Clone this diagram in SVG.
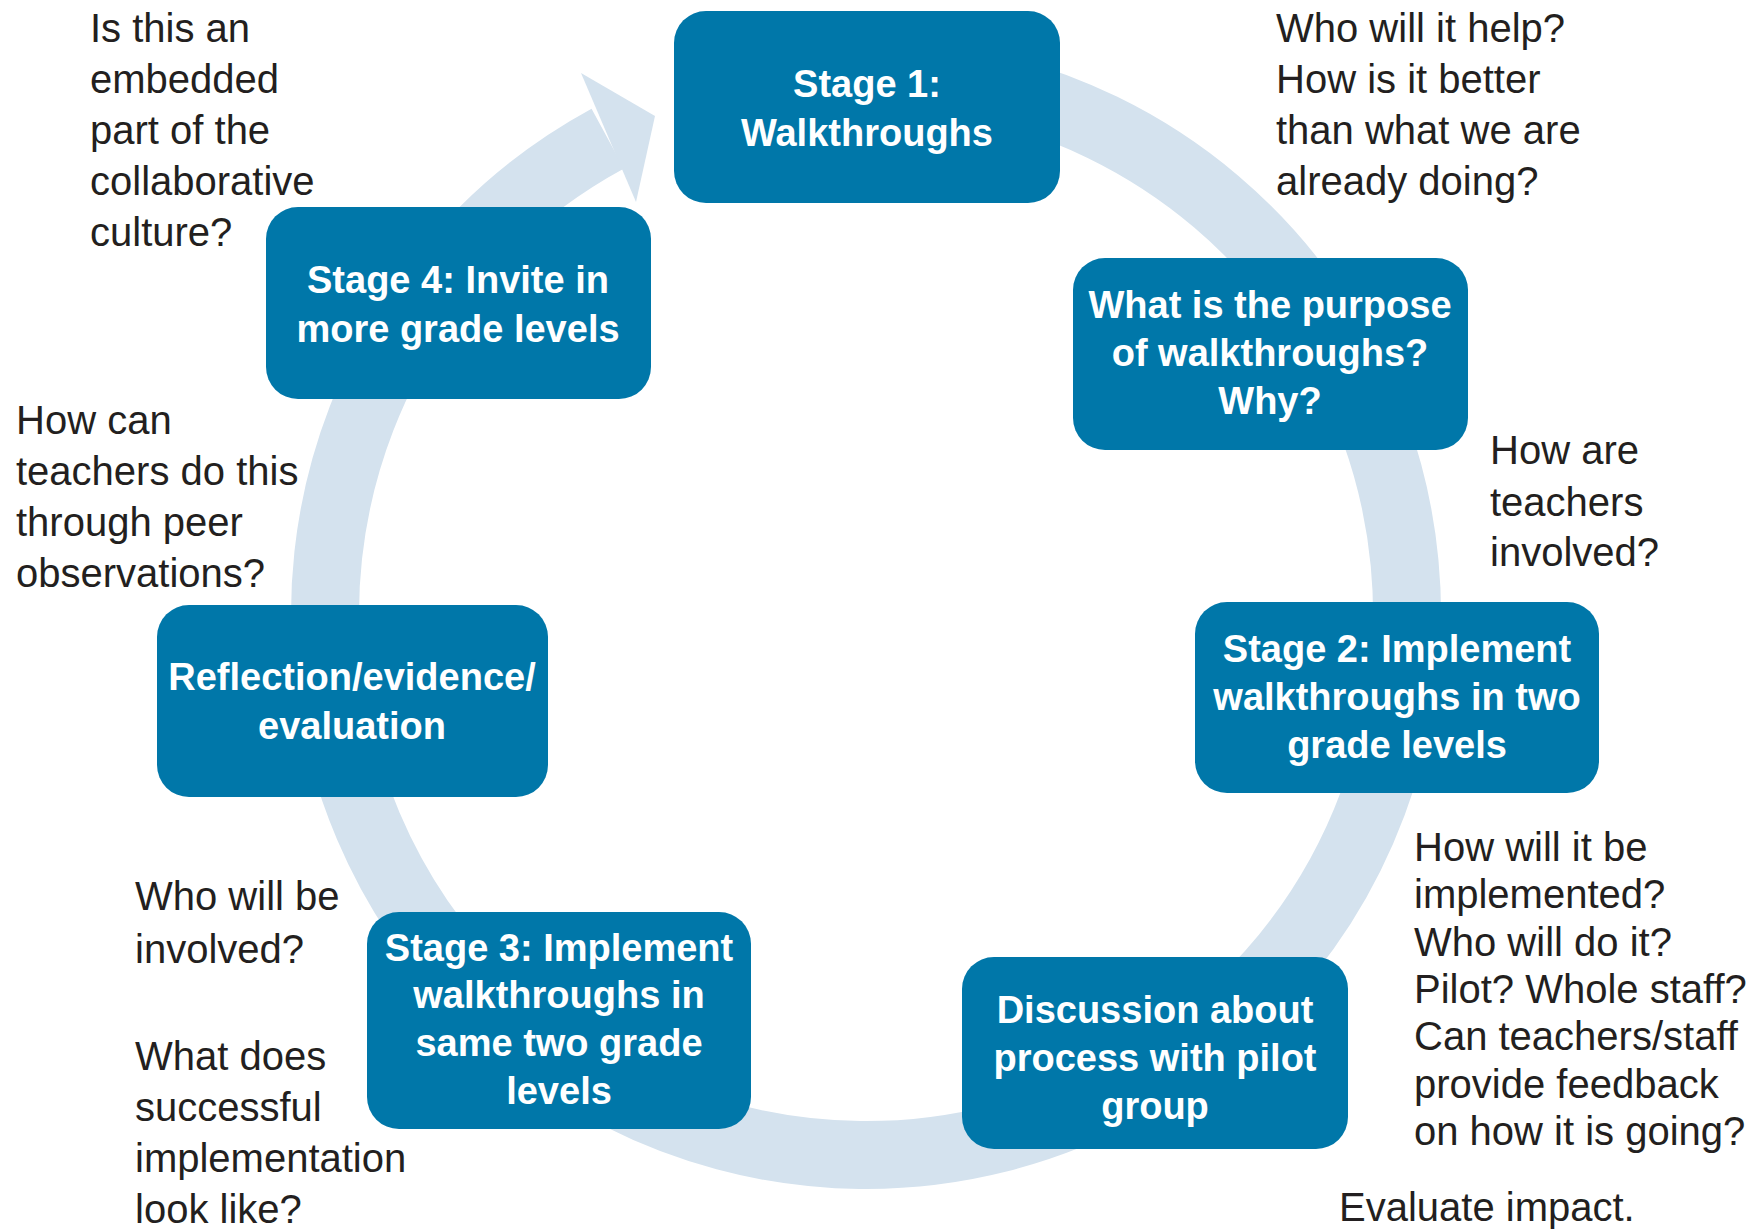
<svg xmlns="http://www.w3.org/2000/svg" width="1758" height="1229" viewBox="0 0 1758 1229">
<style>
.box{fill:#0077a9;}
.bt{font-family:"Liberation Sans",Arial,sans-serif;font-weight:bold;font-size:38px;fill:#ffffff;text-anchor:middle;}
.nt{font-family:"Liberation Sans",Arial,sans-serif;font-size:40px;fill:#231f20;}
.ring{fill:none;stroke:#d4e2ee;stroke-width:68;}
.head{fill:#d4e2ee;}
</style>
<rect width="1758" height="1229" fill="#ffffff"/>
<g id="connectors">
<path class="ring" d="M 866 73 A 541 541 0 1 1 607.8 138.6"/>
<polygon class="head" points="581,73 655,116 636,202"/>
</g>
<g id="stage1">
<rect class="box" x="674" y="11" width="386" height="192" rx="32"/>
<text class="bt" x="867" y="97">Stage 1:</text>
<text class="bt" x="867" y="146">Walkthroughs</text>
</g>
<g id="purpose">
<rect class="box" x="1073" y="258" width="395" height="192" rx="32"/>
<text class="bt" x="1270" y="318">What is the purpose</text>
<text class="bt" x="1270" y="366">of walkthroughs?</text>
<text class="bt" x="1270" y="414">Why?</text>
</g>
<g id="stage2">
<rect class="box" x="1195" y="602" width="404" height="191" rx="32"/>
<text class="bt" x="1397" y="662">Stage 2: Implement</text>
<text class="bt" x="1397" y="710">walkthroughs in two</text>
<text class="bt" x="1397" y="758">grade levels</text>
</g>
<g id="discussion">
<rect class="box" x="962" y="957" width="386" height="192" rx="32"/>
<text class="bt" x="1155" y="1023">Discussion about</text>
<text class="bt" x="1155" y="1071">process with pilot</text>
<text class="bt" x="1155" y="1119">group</text>
</g>
<g id="stage3">
<rect class="box" x="367" y="912" width="384" height="217" rx="32"/>
<text class="bt" x="559" y="961">Stage 3: Implement</text>
<text class="bt" x="559" y="1008">walkthroughs in</text>
<text class="bt" x="559" y="1056">same two grade</text>
<text class="bt" x="559" y="1104">levels</text>
</g>
<g id="reflection">
<rect class="box" x="157" y="605" width="391" height="192" rx="32"/>
<text class="bt" x="352" y="690">Reflection/evidence/</text>
<text class="bt" x="352" y="739">evaluation</text>
</g>
<g id="stage4">
<rect class="box" x="266" y="207" width="385" height="192" rx="32"/>
<text class="bt" x="458" y="293">Stage 4: Invite in</text>
<text class="bt" x="458" y="342">more grade levels</text>
</g>
<g id="q-culture">
<text class="nt" x="90" y="42">Is this an</text>
<text class="nt" x="90" y="93">embedded</text>
<text class="nt" x="90" y="144">part of the</text>
<text class="nt" x="90" y="195">collaborative</text>
<text class="nt" x="90" y="246">culture?</text>
</g>
<g id="q-help">
<text class="nt" x="1276" y="42">Who will it help?</text>
<text class="nt" x="1276" y="93">How is it better</text>
<text class="nt" x="1276" y="144">than what we are</text>
<text class="nt" x="1276" y="195">already doing?</text>
</g>
<g id="q-teachers">
<text class="nt" x="1490" y="464">How are</text>
<text class="nt" x="1490" y="516">teachers</text>
<text class="nt" x="1490" y="566">involved?</text>
</g>
<g id="q-peer">
<text class="nt" x="16" y="434">How can</text>
<text class="nt" x="16" y="485">teachers do this</text>
<text class="nt" x="16" y="536">through peer</text>
<text class="nt" x="16" y="587">observations?</text>
</g>
<g id="q-implement">
<text class="nt" x="1414" y="861">How will it be</text>
<text class="nt" x="1414" y="908">implemented?</text>
<text class="nt" x="1414" y="956">Who will do it?</text>
<text class="nt" x="1414" y="1003">Pilot? Whole staff?</text>
<text class="nt" x="1414" y="1050">Can teachers/staff</text>
<text class="nt" x="1414" y="1098">provide feedback</text>
<text class="nt" x="1414" y="1145">on how it is going?</text>
</g>
<g id="q-evaluate">
<text class="nt" x="1339" y="1221">Evaluate impact.</text>
</g>
<g id="q-involved">
<text class="nt" x="135" y="910">Who will be</text>
<text class="nt" x="135" y="963">involved?</text>
</g>
<g id="q-success">
<text class="nt" x="135" y="1070">What does</text>
<text class="nt" x="135" y="1121">successful</text>
<text class="nt" x="135" y="1172">implementation</text>
<text class="nt" x="135" y="1223">look like?</text>
</g>
</svg>
